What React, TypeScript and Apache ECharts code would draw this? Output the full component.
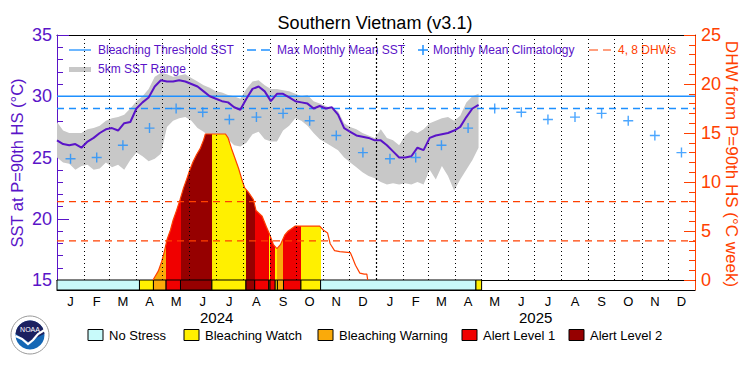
import React, { useEffect, useRef } from "react";
import * as echarts from "echarts";

// ---------- texts ----------
const TITLE = "Southern Vietnam (v3.1)";
const LEFT_TITLE = "SST at P=90th HS (°C)";
const RIGHT_TITLE = "DHW from P=90th HS (°C week)";
const MONTH_LETTERS = ["J", "F", "M", "A", "M", "J", "J", "A", "S", "O", "N", "D"];
const YEARS = ["2024", "2025"];
const TOP_LEGEND = ["Bleaching Threshold SST", "Max Monthly Mean SST", "Monthly Mean Climatology", "4, 8 DHWs", "5km SST Range"];
const STRESS_NAMES = ["No Stress", "Bleaching Watch", "Bleaching Warning", "Alert Level 1", "Alert Level 2"];

// ---------- data ----------
// weekly samples starting 1 Jan 2024 (day 0, 7, 14, ...)
const SST_STEP_DAYS = 7;
const SST = [
  26.4, 26.1, 26.0, 26.1, 25.8, 26.3, 26.6, 27.0, 27.3, 27.4,
  27.2, 27.8, 27.9, 29.0, 29.5, 29.9, 30.8, 31.3, 31.2, 31.2,
  31.3, 31.2, 31.0, 30.8, 30.4, 30.0, 29.8, 29.6, 29.5, 29.1,
  28.9, 29.8, 30.6, 30.8, 30.4, 29.6, 30.2, 30.2, 29.9, 29.6,
  29.5, 29.4, 29.0, 29.2, 29.0, 29.1, 28.5, 27.4, 27.1, 26.8,
  26.7, 26.6, 26.4, 26.4, 26.0, 25.5, 25.0, 25.0, 25.1, 25.8,
  25.6, 26.6, 26.8, 26.9, 27.0, 27.2, 27.5, 28.3, 29.0, 29.3,
];
const SST_MAX = [
  27.9, 27.2, 27.0, 27.0, 27.0, 27.3, 27.4, 27.6, 28.0, 28.2,
  28.3, 28.5, 29.0, 29.6, 30.0, 30.6, 31.6, 31.9, 31.8, 31.6,
  31.7, 31.8, 31.5, 31.2, 30.9, 30.7, 30.4, 30.3, 30.1, 30.0,
  29.8, 30.6, 31.2, 31.3, 30.9, 30.6, 30.6, 30.5, 30.4, 30.2,
  30.0, 30.1, 29.6, 29.4, 29.2, 29.0, 28.8, 27.8, 27.5, 27.3,
  27.0, 26.8, 26.6, 27.3, 26.6, 26.4, 26.0, 26.8, 27.2, 27.0,
  27.3, 27.8, 28.0, 28.2, 28.3, 28.0, 28.4, 29.5, 30.0, 30.2,
];
const SST_MIN = [
  25.0, 24.6, 24.5, 24.0, 24.3, 24.4, 24.0, 24.1, 24.6, 24.2,
  24.4, 24.0, 24.8, 25.4, 25.1, 24.7, 24.9, 25.3, 27.5, 28.0,
  28.2, 28.3, 28.0, 27.4, 27.1, 26.7, 26.3, 26.6, 26.5, 26.0,
  25.9, 26.2, 26.9, 27.1, 26.5, 26.3, 26.3, 27.2, 27.6, 28.2,
  28.0, 27.6, 27.0, 26.5, 26.2, 25.9, 25.6, 25.0, 24.6, 24.2,
  23.8, 23.5, 23.3, 23.0, 22.8, 22.9, 22.8, 22.9, 22.8, 23.0,
  22.8, 24.0, 23.2, 24.3, 23.5, 22.3, 23.2, 24.0, 24.8, 25.8,
];
// monthly mean climatology (Jan..Dec)
const CLIM = [24.9, 25.0, 26.0, 27.4, 29.0, 28.7, 28.1, 28.3, 28.6, 28.0, 26.8, 25.4];
const MMM = 29.0;
const BLEACHING_THRESHOLD = 30.0;

// degree heating weeks (days since 1 Jan 2024)
const DHW_DAYS = [
  110, 112, 116, 120, 123, 126, 130, 133, 137, 141,
  145, 149, 152, 156, 160, 164, 168, 170, 193, 196,
  200, 204, 208, 212, 215, 219, 225, 228, 235, 240,
  243, 248, 252, 256, 261, 265, 273, 301, 305, 310,
  313, 318, 324, 336, 338, 342, 347, 352, 355, 356,
];
const DHW = [
  0, 0.3, 0.9, 1.9, 2.9, 4.1, 5.1, 6.1, 7.1, 8.2,
  9.4, 10.4, 11.2, 12.1, 12.8, 13.4, 14.3, 14.9, 14.9, 14.5,
  13.4, 12.4, 11.4, 10.2, 9.4, 9.0, 8.2, 7.1, 6.5, 5.4,
  4.8, 3.6, 3.2, 3.6, 4.6, 5.0, 5.5, 5.5, 5.1, 4.8,
  3.7, 3.0, 2.9, 2.8, 2.4, 1.5, 0.7, 0.6, 0.6, 0,
];
const DHW_LINES = [4, 8];

// bleaching stress periods: boundaries (days) and level index
const STRESS_BOUNDS = [0, 94.5, 110.5, 125, 141.5, 177.5, 216.5, 226.5, 242.5, 244, 250, 252.5, 259.5, 279.5, 302, 480, 486.5];
const STRESS_LEVEL = [0, 1, 2, 3, 4, 1, 4, 3, 1, 3, 1, 2, 3, 1, 0, 1];

// ---------- styles ----------
const FONT = '"Liberation Sans", Arial, sans-serif';
const PURPLE = "#5A14C8";
const RED = "#FF4000";
const BLUE = "#1E90FF";
const GRAY = "#C8C8C8";
const STRESS_COLORS = ["#C8FAFA", "#FFF000", "#FAAA0A", "#F00000", "#960000"];

// ---------- calendar ----------
const DAY_MS = 86400000;
const T0 = Date.UTC(2024, 0, 1);
const MONTH_STARTS = Array.from({ length: 25 }, (_, m) => (Date.UTC(2024, m, 1) - T0) / DAY_MS);
const TOTAL_DAYS = MONTH_STARTS[24];
const MONTH_MIDS = MONTH_STARTS.slice(0, 24).map((s, i) => (s + MONTH_STARTS[i + 1]) / 2);
const YEAR_MIDS = [MONTH_STARTS[0] + MONTH_STARTS[12], MONTH_STARTS[12] + MONTH_STARTS[24]].map((v) => v / 2);

function buildOption(): any {
  const sstData = SST.map((v, i) => [i * SST_STEP_DAYS, v]);
  const bandData = SST_MIN.map((v, i) => [i * SST_STEP_DAYS, v, SST_MAX[i]]);
  const climData = MONTH_MIDS.map((d, i) => [d, CLIM[i % 12]]);
  const dhwData = DHW_DAYS.map((d, i) => [d, DHW[i]]);
  const stressData = STRESS_LEVEL.map((l, i) => [STRESS_BOUNDS[i], STRESS_BOUNDS[i + 1], l]);

  const txt = (text: string, x: number, y: number, size: number, fill: string, extra: any = {}) => ({
    type: "text",
    x,
    y,
    silent: true,
    ...extra,
    style: { text, font: `${size}px ${FONT}`, fill, align: extra.align || "left", verticalAlign: "middle" },
  });

  const graphic: any[] = [
    txt(TITLE, 375, 23, 18, "#000", { align: "center" }),
    txt(LEFT_TITLE, 17, 163, 16.5, PURPLE, { align: "center", rotation: Math.PI / 2 }),
    txt(RIGHT_TITLE, 731, 164, 17, RED, { align: "center", rotation: -Math.PI / 2 }),
    // top legend
    { type: "line", silent: true, shape: { x1: 69, y1: 50, x2: 91, y2: 50 }, style: { stroke: BLUE, lineWidth: 1.3 } },
    txt(TOP_LEGEND[0], 98, 50, 12, PURPLE),
    { type: "line", silent: true, shape: { x1: 247, y1: 50, x2: 270, y2: 50 }, style: { stroke: BLUE, lineWidth: 1.3, lineDash: [9, 5] } },
    txt(TOP_LEGEND[1], 277, 50, 12, PURPLE),
    { type: "line", silent: true, shape: { x1: 418, y1: 50, x2: 428, y2: 50 }, style: { stroke: BLUE, lineWidth: 1.5 } },
    { type: "line", silent: true, shape: { x1: 423, y1: 45, x2: 423, y2: 55 }, style: { stroke: BLUE, lineWidth: 1.5 } },
    txt(TOP_LEGEND[2], 433, 50, 12, PURPLE),
    { type: "line", silent: true, shape: { x1: 589, y1: 50, x2: 611, y2: 50 }, style: { stroke: RED, lineWidth: 1.2, lineDash: [9, 5] } },
    txt(TOP_LEGEND[3], 618, 50, 12, RED),
    { type: "rect", silent: true, shape: { x: 69, y: 67, width: 22, height: 5 }, style: { fill: GRAY } },
    txt(TOP_LEGEND[4], 98, 69, 12, PURPLE),
  ];
  // bottom legend
  const boxX = [88, 184, 318, 462, 569];
  STRESS_NAMES.forEach((name, i) => {
    graphic.push({
      type: "rect",
      silent: true,
      shape: { x: boxX[i], y: 329.5, width: 15, height: 11 },
      style: { fill: STRESS_COLORS[i], stroke: "#000", lineWidth: 1 },
    });
    graphic.push(txt(name, boxX[i] + 21, 335.5, 13, "#000"));
  });
  // NOAA logo (simplified)
  graphic.push(
    { type: "circle", silent: true, shape: { cx: 30, cy: 335, r: 19 }, style: { fill: "#fff", stroke: "#9a9a9a", lineWidth: 1 } },
    { type: "circle", silent: true, shape: { cx: 30, cy: 335, r: 14.5 }, style: { fill: "#1467b5" } },
    { type: "sector", silent: true, shape: { cx: 30, cy: 335, r: 14.5, r0: 0, startAngle: Math.PI * 1.02, endAngle: Math.PI * 1.98, clockwise: true }, style: { fill: "#1b2160" } },
    { type: "polygon", silent: true, shape: { points: [[16, 334], [44, 334], [36, 338], [29, 342], [22, 338]] }, style: { fill: "#1b2160" } },
    { type: "polyline", silent: true, shape: { points: [[15.5, 336], [22, 339], [28, 344], [33, 340], [38, 334], [44.5, 330]] }, style: { stroke: "#fff", lineWidth: 2.2, fill: "none" } },
    txt("NOAA", 30, 329, 7, "#fff", { align: "center" })
  );

  const axisNone = { show: false };

  // horizontal reference lines as plain two-point line series
  const refLine = (value: number, yAxisIndex: number, color: string, dashed: boolean, width: number, z: number) => ({
    type: "line", xAxisIndex: 0, yAxisIndex, z, silent: true,
    data: [[0, value], [TOTAL_DAYS, value]], showSymbol: false, symbol: "none",
    lineStyle: { color, width, type: dashed ? [7, 5] : "solid" }, itemStyle: { color },
  });

  return {
    animation: false,
    backgroundColor: "#fff",
    textStyle: { fontFamily: FONT },
    grid: [
      { left: 57, right: 55, top: 35, height: 245, outerBoundsMode: "none", containLabel: false },
      { left: 57, right: 55, top: 280, height: 10, outerBoundsMode: "none", containLabel: false },
    ],
    xAxis: [
      {
        gridIndex: 0, type: "value", min: 0, max: TOTAL_DAYS, position: "top",
        axisLine: { show: true, onZero: false, lineStyle: { color: "#000", width: 1 } },
        axisTick: axisNone, axisLabel: axisNone, splitLine: axisNone,
      },
      {
        gridIndex: 1, type: "value", min: 0, max: TOTAL_DAYS, position: "bottom",
        axisLine: { show: true, onZero: false, lineStyle: { color: "#000", width: 1 } },
        axisTick: axisNone, splitLine: axisNone,
        axisLabel: {
          show: true, customValues: MONTH_MIDS, margin: 5, fontSize: 13, color: "#000", fontFamily: FONT,
          formatter: (v: number) => {
            const idx = MONTH_MIDS.findIndex((m) => Math.abs(m - v) < 0.01);
            return idx >= 0 ? MONTH_LETTERS[idx % 12] : "";
          },
        },
      },
      {
        gridIndex: 1, type: "value", min: 0, max: TOTAL_DAYS, position: "bottom", offset: 17,
        axisLine: { show: false, onZero: false }, axisTick: axisNone, splitLine: axisNone,
        axisLabel: {
          show: true, customValues: YEAR_MIDS, margin: 3, fontSize: 15, color: "#000", fontFamily: FONT,
          formatter: (v: number) => {
            const idx = YEAR_MIDS.findIndex((m) => Math.abs(m - v) < 0.01);
            return idx >= 0 ? YEARS[idx] : "";
          },
        },
      },
      {
        gridIndex: 1, type: "value", min: 0, max: TOTAL_DAYS, position: "top",
        axisLine: { show: true, onZero: false, lineStyle: { color: "#000", width: 1 } },
        axisTick: axisNone, axisLabel: axisNone, splitLine: axisNone,
      },
    ],
    yAxis: [
      {
        gridIndex: 0, type: "value", min: 15, max: 35, interval: 5, position: "left",
        axisLine: { show: true, onZero: false, lineStyle: { color: PURPLE, width: 1 } },
        axisTick: { show: true, inside: true, length: 12, lineStyle: { color: PURPLE } },
        minorTick: { show: true, splitNumber: 5, length: 6, lineStyle: { color: PURPLE } },
        axisLabel: { color: PURPLE, fontSize: 18, margin: 5, fontFamily: FONT },
        splitLine: axisNone,
      },
      {
        gridIndex: 0, type: "value", min: 0, max: 25, interval: 5, position: "right",
        axisLine: { show: true, onZero: false, lineStyle: { color: RED, width: 1 } },
        axisTick: { show: true, inside: true, length: 11, lineStyle: { color: RED } },
        minorTick: { show: true, splitNumber: 5, length: 6, lineStyle: { color: RED } },
        axisLabel: { color: RED, fontSize: 18, margin: 6, fontFamily: FONT },
        splitLine: axisNone,
      },
      {
        gridIndex: 1, type: "value", min: 0, max: 1, position: "left",
        axisLine: { show: true, onZero: false, lineStyle: { color: PURPLE, width: 1 } },
        axisTick: axisNone, axisLabel: axisNone, splitLine: axisNone,
      },
      {
        gridIndex: 1, type: "value", min: 0, max: 1, position: "right",
        axisLine: { show: true, onZero: false, lineStyle: { color: RED, width: 1 } },
        axisTick: axisNone, axisLabel: axisNone, splitLine: axisNone,
      },
    ],
    visualMap: [
      {
        type: "piecewise", show: false, dimension: 0, seriesIndex: 1,
        pieces: STRESS_LEVEL.map((l, i) => ({
          gte: STRESS_BOUNDS[i], lt: STRESS_BOUNDS[i + 1],
          color: l === 0 ? "rgba(255,255,255,0)" : STRESS_COLORS[l],
        })),
        outOfRange: { color: "rgba(255,255,255,0)" },
      },
    ],
    graphic,
    series: [
      {
        type: "custom", name: "range", xAxisIndex: 0, yAxisIndex: 0, z: 1, silent: true,
        data: bandData, encode: { x: 0, y: [1, 2] },
        renderItem: (params: any, api: any) => {
          if (params.dataIndex !== 0) return null;
          const pts: number[][] = [];
          for (let i = 0; i < bandData.length; i++) pts.push(api.coord([bandData[i][0], bandData[i][2]]));
          for (let i = bandData.length - 1; i >= 0; i--) pts.push(api.coord([bandData[i][0], bandData[i][1]]));
          return { type: "polygon", shape: { points: pts }, style: { fill: GRAY } };
        },
      },
      {
        type: "line", name: "dhwArea", xAxisIndex: 0, yAxisIndex: 1, z: 2, silent: true,
        data: dhwData, showSymbol: false, symbol: "none",
        lineStyle: { width: 0, opacity: 0 }, areaStyle: { opacity: 1 },
      },
      {
        type: "line", name: "dhw", xAxisIndex: 0, yAxisIndex: 1, z: 3, silent: true,
        data: dhwData, showSymbol: false, symbol: "none",
        lineStyle: { color: RED, width: 1.2 }, itemStyle: { color: RED },
      },
      {
        type: "line", name: "sst", xAxisIndex: 0, yAxisIndex: 0, z: 6, silent: true,
        data: sstData, showSymbol: false, symbol: "none",
        lineStyle: { color: PURPLE, width: 2 }, itemStyle: { color: PURPLE },
        markLine: {
          silent: true, symbol: ["none", "none"], label: { show: false }, z: 4,
          lineStyle: { color: "#000", width: 1, type: [1, 3] },
          data: MONTH_STARTS.slice(1, 24).map((d, i) =>
            i === 11 ? { xAxis: d, lineStyle: { type: [2, 2], width: 1.2 } } : { xAxis: d }
          ),
        },
      },
      {
        type: "scatter", name: "clim", xAxisIndex: 0, yAxisIndex: 0, z: 7, silent: true,
        data: climData, symbol: "path://M0.43,0H0.57V0.43H1V0.57H0.57V1H0.43V0.57H0V0.43H0.43Z", symbolSize: 10,
        itemStyle: { color: BLUE },
      },
      {
        type: "custom", name: "stress", xAxisIndex: 1, yAxisIndex: 2, z: 3, silent: true,
        data: stressData, encode: { x: [0, 1] },
        renderItem: (params: any, api: any) => {
          const s = api.value(0), e = api.value(1), l = api.value(2);
          const p0 = api.coord([s, 1]);
          const p1 = api.coord([e, 0]);
          return {
            type: "rect",
            shape: { x: p0[0], y: p0[1], width: p1[0] - p0[0], height: p1[1] - p0[1] },
            style: { fill: STRESS_COLORS[l], stroke: "#000", lineWidth: 1 },
          };
        },
      },
      refLine(BLEACHING_THRESHOLD, 0, BLUE, false, 1.3, 5),
      refLine(MMM, 0, BLUE, true, 1.3, 5),
      ...DHW_LINES.map((v) => refLine(v, 1, RED, true, 1.2, 4)),
    ],
  };
}

export default function App() {
  const ref = useRef<HTMLDivElement>(null);
  useEffect(() => {
    if (!ref.current) return;
    const chart = echarts.init(ref.current, null, { renderer: "svg" });
    chart.setOption(buildOption());
    return () => chart.dispose();
  }, []);
  return (
    <div
      ref={ref}
      style={{ position: "absolute", left: 0, top: 0, width: 750, height: 375, background: "#fff" }}
    />
  );
}
